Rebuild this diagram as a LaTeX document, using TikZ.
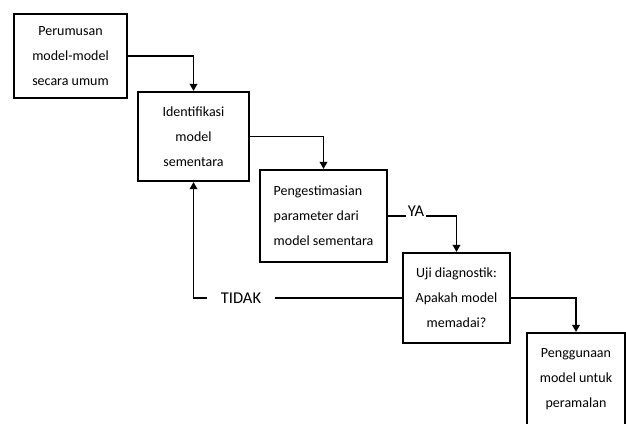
\documentclass[tikz,border=0pt]{standalone}
\usepackage{fontspec}
\setmainfont{Carlito}
\usetikzlibrary{arrows.meta}
\begin{document}
\begin{tikzpicture}[x=1pt,y=-1pt]

\tikzset{stage/.style={draw=black,line width=2.2pt,align=center,inner sep=0pt,font=\fontsize{14}{25}\selectfont},
    answer/.style={inner xsep=2pt,inner ysep=0pt,font=\fontsize{16.5}{19}\selectfont},
    link/.style={line width=1.8pt,-{Triangle[length=7pt,width=7.5pt]}}
}

\useasboundingbox (0,0) rectangle (626,423);
\clip (0,0) rectangle (626,423);

%% Stages
\node[stage,minimum width=113,minimum height=84] (rumus) at (70.5,56) {Perumusan\\model-model\\secara umum};
\node[stage,minimum width=111,minimum height=89] (ident) at (193.5,136.5) {Identifikasi\\model\\sementara};
\node[stage,align=left,minimum width=127,minimum height=92] (estim) at (323.5,216) {Pengestimasian\\parameter dari\\model sementara};
\node[stage,minimum width=107,minimum height=90] (uji) at (456.5,298) {Uji diagnostik:\\Apakah model\\memadai?};
\node[stage,minimum width=98,minimum height=92] (guna) at (576,379) {Penggunaan\\model untuk\\peramalan};

%% Answers
\node[answer,anchor=base] (ya) at (416,216) {YA};
\node[answer,inner xsep=14pt] (tidak) at (241,298) {TIDAK};

%% Flow
\draw[link] (rumus.east) -| (ident.north);
\draw[link] (ident.east) -| (estim.north);
\draw[line width=1.8pt] (estim.east) -- (ya.base west);
\draw[link] (ya.base east) -| (uji.north);
\draw[link] (uji.east) -| (guna.north);

% not adequate: back to identification
\draw[line width=1.8pt] (uji.west) -- (tidak.east);
\draw[link] (tidak.west) -| (ident.south);

\end{tikzpicture}
\end{document}
